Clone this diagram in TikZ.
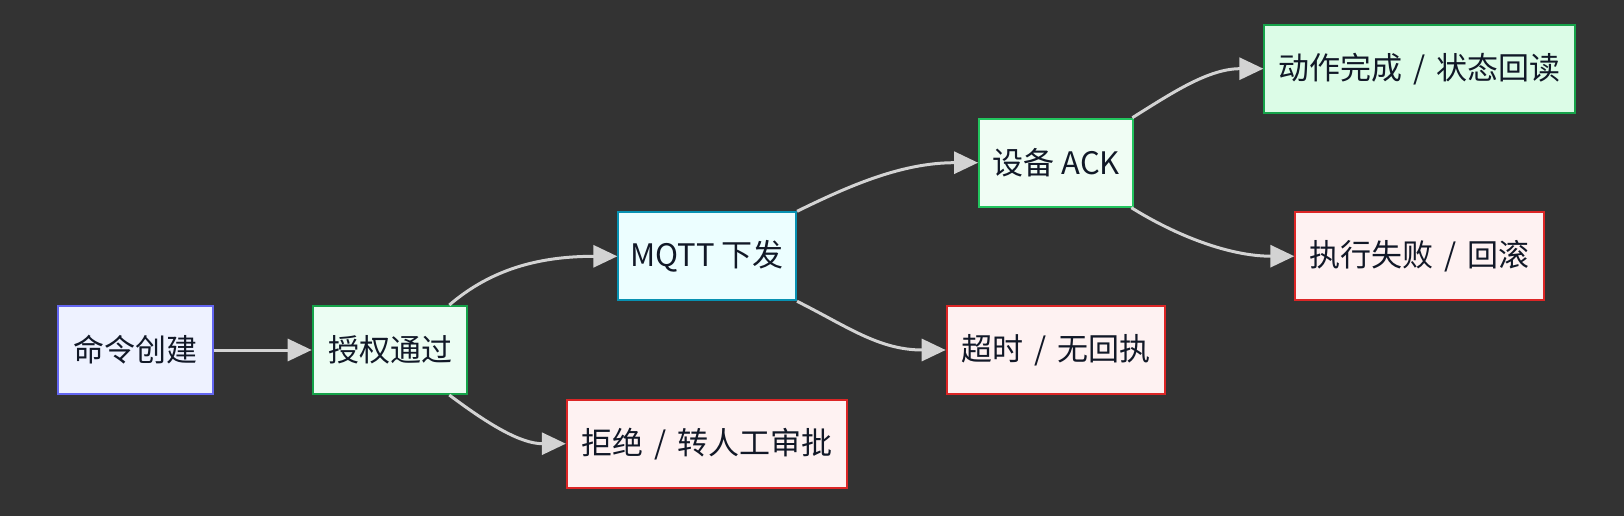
\documentclass[tikz,border=0pt]{standalone}
\usepackage{fontspec}
\setmainfont{Noto Sans CJK SC}
\usetikzlibrary{arrows.meta}
\definecolor{bg}{HTML}{333333}
\definecolor{edgec}{HTML}{D3D3D3}
\definecolor{txt}{HTML}{111827}
\definecolor{blueF}{HTML}{EEF2FF}\definecolor{blueD}{HTML}{6366F1}
\definecolor{mintF}{HTML}{ECFDF3}\definecolor{mintD}{HTML}{16A34A}
\definecolor{ackF}{HTML}{F0FDF4}\definecolor{ackD}{HTML}{22C55E}
\definecolor{okF}{HTML}{DCFCE7}\definecolor{okD}{HTML}{16A34A}
\definecolor{cyanF}{HTML}{ECFEFF}\definecolor{cyanD}{HTML}{0891B2}
\definecolor{redF}{HTML}{FEF2F2}\definecolor{redD}{HTML}{DC2626}
\newcommand{\slsep}{\hspace{0.35em}/\hspace{0.35em}}
\begin{document}
\begin{tikzpicture}[x=1pt,y=-1pt,
  box/.style={draw, line width=2pt, rectangle, inner sep=0pt, minimum height=88pt,
    text=txt, font=\fontsize{31}{37}\selectfont},
  flow/.style={draw=edgec, line width=3pt,
    -{Triangle[length=24pt,width=22pt,fill=edgec]}}]
\fill[bg] (0,0) rectangle (1624,516);
\useasboundingbox (0,0) rectangle (1624,516);

\node[box, fill=blueF, draw=blueD, minimum width=155pt] (A) at (135.8,350) {命令创建};
\node[box, fill=mintF, draw=mintD, minimum width=154.6pt] (B) at (390,350) {授权通过};
\node[box, fill=redF, draw=redD, minimum width=280pt] (C) at (706.8,443.7) {拒绝\slsep 转人工审批};
\node[box, fill=cyanF, draw=cyanD, minimum width=177.7pt] (D) at (707.2,256.3) {MQTT 下发};
\node[box, fill=redF, draw=redD, minimum width=218.6pt] (E) at (1056,350) {超时\slsep 无回执};
\node[box, fill=ackF, draw=ackD, minimum width=154.3pt] (F) at (1056.2,162.7) {设备 ACK};
\node[box, fill=okF, draw=okD, minimum width=310.7pt] (G) at (1419.7,68.7) {动作完成\slsep 状态回读};
\node[box, fill=redF, draw=redD, minimum width=249pt] (H) at (1419.8,256.2) {执行失败\slsep 回滚};

\draw[flow] (A.east) -- (B.west);
\draw[flow] ([xshift=-19pt]B.north east) .. controls +(42,-36) and +(-78,0) .. (D.west);
\draw[flow] ([xshift=-19pt]B.south east) .. controls +(40,30) and +(-45,0) .. (C.west);
\draw[flow] (D.north east) .. controls +(55,-27) and +(-75,0) .. (F.west);
\draw[flow] (D.south east) .. controls +(50,25) and +(-67,0) .. (E.west);
\draw[flow] ([xshift=-2pt]F.north east) .. controls +(40,-25) and +(-55,0) .. (G.west);
\draw[flow] ([xshift=-3pt]F.south east) .. controls +(45,28) and +(-65,0) .. (H.west);
\end{tikzpicture}
\end{document}
